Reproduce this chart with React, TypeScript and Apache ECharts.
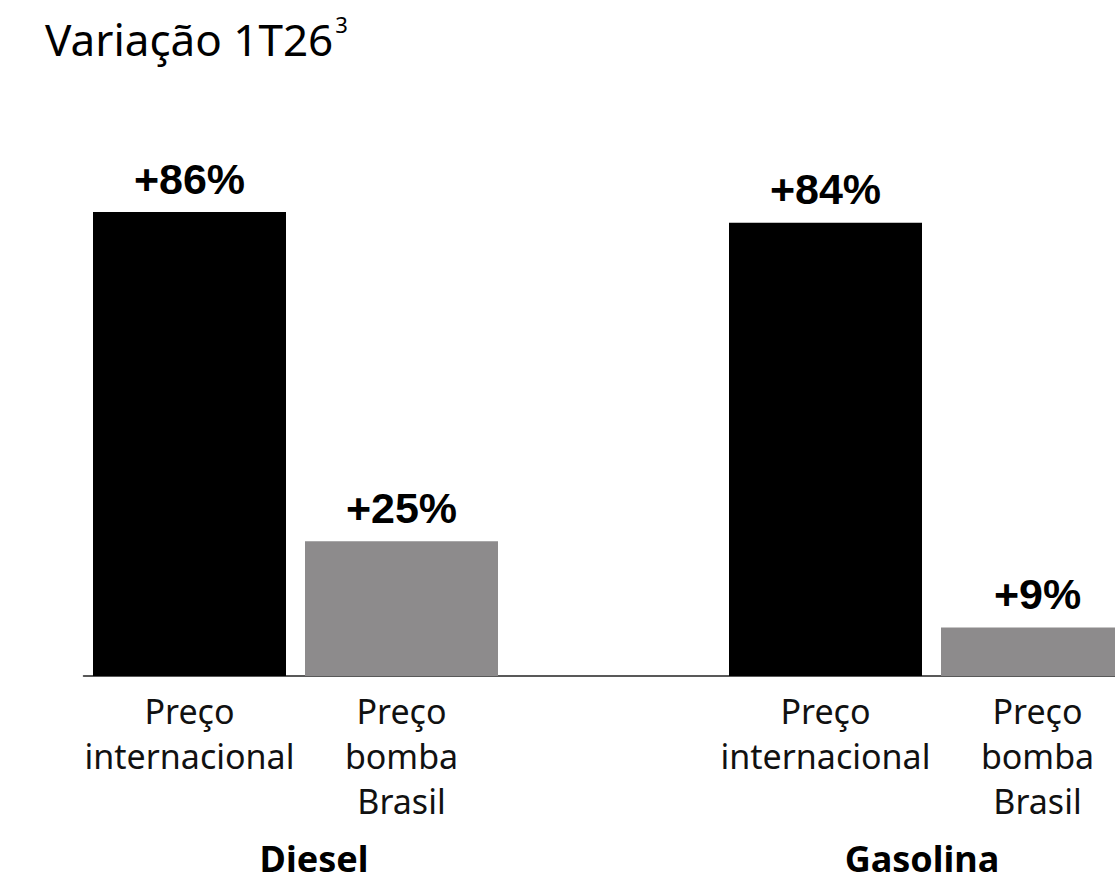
import React, { useEffect, useRef } from "react";
import * as echarts from "echarts";

const categories = [
  "Preço\ninternacional",
  "Preço\nbomba\nBrasil",
  "",
  "Preço\ninternacional",
  "Preço\nbomba\nBrasil",
];
const values: (number | string)[] = [86, 25, "-", 84, 9];
const groups = ["Diesel", "Gasolina"];
const titleMain = "Variação 1T26";
const titleSup = "3";

const BLACK = "#000000";
const GRAY = "#8d8b8c";

export default function App() {
  const ref = useRef<HTMLDivElement>(null);
  useEffect(() => {
    if (!ref.current) return;
    const chart = echarts.init(ref.current, null, { renderer: "svg" });
    chart.setOption({
      animation: false,
      backgroundColor: "#ffffff",
      title: {
        text: `{m|${titleMain}}{s|${titleSup}}`,
        left: 40,
        top: 8,
        textStyle: {
          fontWeight: "normal",
          rich: {
            m: { fontFamily: "Noto Sans", fontSize: 44, fontWeight: "normal", color: "#000", lineHeight: 52 },
            s: { fontFamily: "Noto Sans", fontSize: 22, fontWeight: "normal", color: "#000", verticalAlign: "top", lineHeight: 50, padding: [0, 0, 0, 2] },
          },
        },
      },
      grid: { left: 83.5, right: 0.5, top: 136.5, bottom: 209, containLabel: false },
      xAxis: {
        type: "category",
        data: categories,
        axisTick: { show: false },
        axisLine: { lineStyle: { color: "#222", width: 1.5 } },
        axisLabel: {
          interval: 0,
          fontFamily: "Noto Sans",
          fontSize: 34,
          lineHeight: 45,
          color: "#111",
          margin: 12,
        },
      },
      yAxis: {
        type: "value",
        min: 0,
        max: 100,
        show: false,
        splitLine: { show: false },
      },
      series: [
        {
          type: "bar",
          data: values,
          barWidth: 193,
          itemStyle: {
            color: (p: any) => (String(categories[p.dataIndex]).includes("bomba") ? GRAY : BLACK),
          },
          label: {
            show: true,
            position: "top",
            distance: 12,
            formatter: (p: any) => `+${p.value}%`,
            fontFamily: "Liberation Sans, Arial",
            fontWeight: "bold",
            fontSize: 43,
            color: "#000",
          },
        },
      ],
      graphic: [
        {
          type: "text",
          x: 314,
          y: 840,
          style: { text: groups[0], font: "bold 36px 'Noto Sans'", fill: "#000", align: "center", verticalAlign: "top" },
        },
        {
          type: "text",
          x: 922,
          y: 840,
          style: { text: groups[1], font: "bold 36px 'Noto Sans'", fill: "#000", align: "center", verticalAlign: "top" },
        },
      ],
    });
    return () => chart.dispose();
  }, []);
  return (
    <div style={{ position: "absolute", left: 0, top: 0, width: 1115, height: 885, overflow: "hidden" }}>
      <div ref={ref} style={{ width: 1144, height: 885 }} />
    </div>
  );
}
